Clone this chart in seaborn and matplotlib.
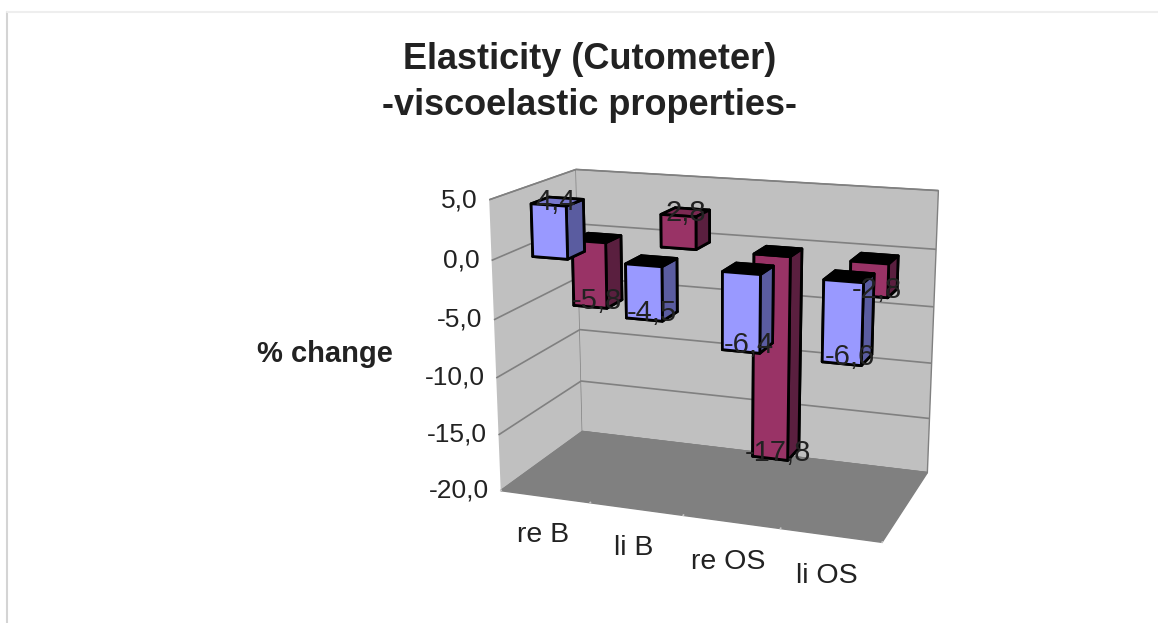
import seaborn as sns
import matplotlib
matplotlib.use("Agg")
import matplotlib.pyplot as plt
from matplotlib.lines import Line2D

categories = ["re B", "li B", "re OS", "li OS"]
blue_values = [4.4, -4.5, -6.4, -6.6]
red_values = [-5.8, 2.8, -17.8, -2.8]
value_ticks = [5, 0, -5, -10, -15, -20]

W, H = 1158, 623
TEXT = "#222222"


def comma(v):
    return f"{v:.1f}".replace(".", ",")


def px(x, y):
    return x / W, 1 - y / H


sns.set_theme(style="white")
plt.rcParams["font.family"] = ["Liberation Sans", "DejaVu Sans"]

fig = plt.figure(figsize=(W / 100, H / 100), dpi=100)
ax = fig.add_axes([452.69 / W, 16.12 / H, 515.84 / W, 515.84 / H], projection="3d")
ax.set_xlim(0, 4, view_margin=0)
ax.set_ylim(0, 1, view_margin=0)
ax.set_zlim(-20, 5, view_margin=0)
ax.view_init(15.377, -70.31, -0.027)
ax.set_proj_type("persp", focal_length=0.5489)
ax.set_box_aspect((1, 0.5008, 0.7534))
ax.patch.set_alpha(0)
ax.computed_zorder = False

ax.xaxis.set_pane_color("#c0c0c0")
ax.yaxis.set_pane_color("#c0c0c0")
ax.zaxis.set_pane_color("#808080")
for a in (ax.xaxis, ax.yaxis, ax.zaxis):
    a.pane.set_edgecolor("#808080")
    a.line.set_color((0, 0, 0, 0))
    a._axinfo["tick"]["inward_factor"] = 0
    a._axinfo["tick"]["outward_factor"] = 0
ax.xaxis._axinfo["tick"]["outward_factor"] = 0.08
ax.xaxis._axinfo["grid"]["color"] = (0, 0, 0, 0)
ax.yaxis._axinfo["grid"]["color"] = (0, 0, 0, 0)
ax.zaxis._axinfo["grid"].update(color="#808080", linewidth=1.2, linestyle="-")
ax.set_xticks(range(5))
ax.set_yticks([0, 1])
ax.set_zticks(value_ticks)
ax.set_xticklabels([])
ax.set_yticklabels([])
ax.set_zticklabels([])
ax.tick_params(axis="x", color="#c8c8c8")


def draw_row(values, y0, offset, front, side, top_up, start):
    for i, v in enumerate(values):
        top = top_up if v > 0 else "black"
        ax.bar3d(i + offset, y0, min(v, 0), 0.38, 0.2, abs(v), shade=False,
                 color=[front, top, front, front, side, side],
                 edgecolor="black", linewidth=2.0, zorder=start + i)
        lift = 0.6 if v < 0 else 0.3
        ax.text(i + offset + 0.27, y0, v + lift, comma(v), ha="center", va="center",
                fontsize=21, color=TEXT, zorder=50)


draw_row(red_values, 0.58, 0.33, "#993366", "#5a1f3f", "#7a2952", 10)
draw_row(blue_values, 0.15, 0.30, "#9999ff", "#5a5ca0", "#7777cc", 20)

for v in value_ticks:
    ax.text(-0.13, 0, v - 0.1, comma(v), ha="right", va="center", fontsize=19, color=TEXT)
for i, c in enumerate(categories):
    ax.text(i + 0.47, 0, -23.5, c, ha="center", va="center", fontsize=20.5, color=TEXT)

fig.text(*px(590, 59.5), "Elasticity (Cutometer)", ha="center", va="center",
         fontsize=26, fontweight="bold", color=TEXT)
fig.text(*px(590, 105.5), "-viscoelastic properties-", ha="center", va="center",
         fontsize=26, fontweight="bold", color=TEXT)
fig.text(*px(325, 354), "% change", ha="center", va="center",
         fontsize=21, fontweight="bold", color=TEXT)
fig.add_artist(Line2D([7 / W, 7 / W], [0, 1 - 12 / H], color="#d4d4d4", lw=1.5))
fig.add_artist(Line2D([7 / W, 1], [1 - 12 / H, 1 - 12 / H], color="#eeeeee", lw=1.5))

fig.savefig("out.png", dpi=100)
